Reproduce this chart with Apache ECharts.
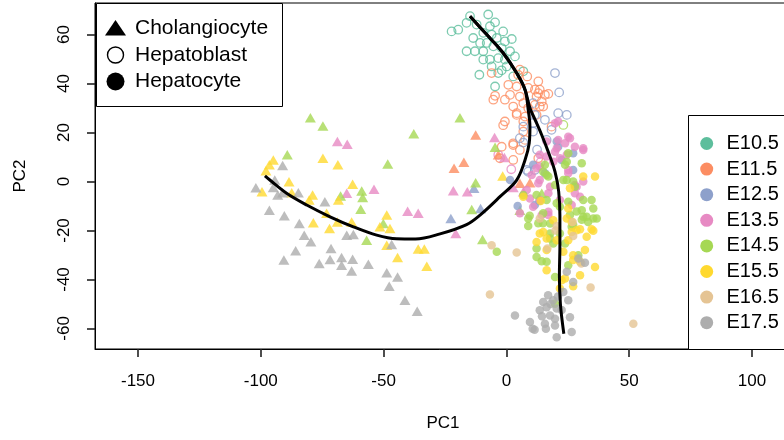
<!DOCTYPE html>
<html>
<head>
<meta charset="utf-8">
<script src="https://cdn.jsdelivr.net/npm/echarts@6/dist/echarts.min.js"></script>
<style>
  html, body { margin: 0; padding: 0; background: #fff; }
  #main { width: 784px; height: 440px; }
</style>
</head>
<body>
<div id="main"></div>
<script>
// 发育阶段
var stages = ['E10.5', 'E11.5', 'E12.5', 'E13.5', 'E14.5', 'E15.5', 'E16.5', 'E17.5'];
var cellTypes = ['Cholangiocyte', 'Hepatoblast', 'Hepatocyte'];
var xTicks = [-150, -100, -50, 0, 50, 100];
var yTicks = [-60, -40, -20, 0, 20, 40, 60];

// Cholangiocyte (三角形)
var cholE115 = [[-12.5, 19], [-17.3, 7.9], [-21.3, 5.4], [-3.3, 10.9], [5.5, -0.7], [9.6, -0.5]];
var cholE125 = [[-13.2, -2.8], [-10.5, -11], [-22.6, -15.1]];
var cholE135 = [[-68.8, 16.3], [-64.8, 15.2], [-53.9, -3.2], [-65, -4.8], [-40.2, -12.1], [-35.9, -13],
    [-21.6, -3.8], [-15.9, -4.2], [-4.8, 18], [-0.8, 9.8], [2.8, -2.4], [-20.6, -21.2], [6.9, -4.2]];
var cholE145 = [[-79.8, 26], [-74.7, 22.7], [-37.7, 19.5], [-18.9, 26], [-89.2, 10.9], [-48.3, 7.2],
    [-67.5, -5.9], [-58.9, -3.9], [-58.5, -6.5], [-59.3, -11.3], [-50.1, -17.1], [-56.9, -24],
    [-12.5, -0.5], [-4.6, 14], [-14.1, -11.4], [-9.7, -23.7], [14.4, -4.8], [5.5, -11.7]];
var cholE155 = [[-94.9, 8.8], [-96.5, 6.8], [-97.9, 4.4], [-99.5, -4.2], [-88.5, -0.1], [-87.4, -4.6],
    [-74.7, 9.5], [-68.6, 6.8], [-62.6, -1.1], [-78.9, -5.5], [-80.3, -7.6], [-68.4, -7.6],
    [-73.2, -13], [-48.7, -13.7], [-78.6, -16.8], [-68.8, -16.5], [-63, -16.5], [-72, -19.2],
    [-51.5, -18.5], [-47.4, -19.2], [-48.7, -26], [-44.3, -31], [-35.9, -27.6], [-33.4, -27.6],
    [-32.4, -34.6], [-1.5, 2.3]];
var cholE175 = [[-91.1, 6.5], [-102, -2.5], [-94.3, 0.6], [-94.9, -2.4], [-93.1, -5.5], [-91.1, -4.6],
    [-84.7, -4.6], [-73.9, -8.3], [-96.5, -11.7], [-90.4, -14], [-84.3, -17.1], [-82.3, -21.9],
    [-79.6, -24.6], [-85.8, -28.3], [-90.6, -32.1], [-71.4, -27.4], [-76.2, -33.5], [-71.8, -31.9],
    [-67.1, -31], [-62.6, -31.7], [-67.1, -34.2], [-63, -36.5], [-56.2, -33.8], [-65, -21.9],
    [-62.3, -21.6], [-48.7, -37.3], [-44.3, -39], [-47.7, -42.8], [-41.3, -48.5], [-36.3, -53],
    [-46.7, -25.7]];

// Hepatoblast (空心圆)
var blastE105 = [[-14.8, 67.5], [-7.4, 68.2], [-22.3, 61.3], [-19.6, 62], [-16.2, 64.8], [-12.1, 64.1],
    [-4.6, 65], [-6.7, 63.4], [-9.4, 60.7], [-6, 60], [-3.9, 58.6], [-13.5, 58.6], [-10.7, 56.6],
    [-8, 56.6], [-0.6, 57.2], [2.2, 58.2], [-5.3, 55.2], [-1.9, 54.5], [1.5, 53.2], [-16.2, 53.2],
    [-12.8, 53.2], [-9.4, 53.2], [-9.4, 49.8], [-6.7, 49.8], [-3.3, 50.4], [-0.6, 49.8], [0.1, 47],
    [-1.9, 45.4], [-3.3, 44.3], [-6, 47], [-11, 43.6], [6.9, 45], [-4.6, 38.8], [2.8, 42.9],
    [3.5, 51.1], [-1.3, 61.3]];
var blastE115 = [[-6, 44.3], [5.5, 45.7], [4.8, 43.6], [8.5, 42.9], [13, 40.9], [0.8, 39.5], [4.2, 38.8],
    [8.9, 38.2], [11.6, 37.5], [13.6, 37.5], [-4.6, 35], [1.5, 35.4], [5.5, 34.7], [12.3, 34.7],
    [15.7, 35.4], [-5.3, 33.4], [-0.6, 33.4], [2.8, 30.6], [6.9, 32], [11.6, 31.3], [15, 30.6],
    [4.2, 27.2], [7.6, 26.5], [-0.6, 24.5], [12.3, 27.2], [13, 36.1], [17.1, 35.8], [14.4, 32.7],
    [8.9, 30], [13.6, 30.6], [4.2, 27.9], [6.9, 24.5], [6.9, 20.4], [7.6, 17], [2.8, 14.9],
    [5.5, 12.9], [18.4, 22.4], [-1.9, 14.2], [2.8, 15.6], [2.8, 8.8], [-2.6, 9.5], [13, 9.5], [-1.3, 23]];
var blastE125 = [[19.8, 44.3], [21.5, 36.4], [10.9, 32], [21.1, 27.9], [24.6, 27.2], [11.6, 27.2],
    [15.7, 25.2], [6.9, 22.4], [10.9, 20.4], [18.4, 21.1], [5.5, 17.7], [16.4, 17], [6.9, 15.9],
    [8.3, 4.7], [11.6, 4.7], [8.9, 4], [10.9, 23.9], [12.5, 13]];
var blastE135 = [[-3.3, 10.9], [14, 8], [2, 5]];
var blastE145 = [[23.2, 23.1]];

// Hepatocyte (实心圆)
var cyteE125 = [[21.1, 14.2], [27.2, 11.5], [27.2, 4.7], [15.7, 3.4], [10.9, 6.8], [11.6, -9.6],
    [4.6, -10], [22.5, 8.8], [1.5, 0.6], [20.5, 16.3], [13.5, -8]];
var cyteE135 = [[21.1, 17], [25.2, 18.3], [27.9, 14.2], [31.3, 12.9], [20.5, 13.6], [16.4, 10.2],
    [24.6, 10.9], [19.1, 8.1], [13.6, 6.1], [10.3, 2.7], [25.2, 4.7], [13.6, 0.6], [8.3, -3.5],
    [17.8, -2.1], [13.6, -7.6], [10.9, -10.3], [5.5, -13], [17.1, -12.4], [21.8, -7.6], [28.6, -2.1],
    [30, -6.2], [16.4, 16.3], [23.9, 15.6], [19.8, 12.2], [13.6, 10.9], [21.8, 9.5], [12.3, 5.4],
    [25.2, 3.4], [13, -0.7], [9.6, -6.9], [17.1, -4.8], [27.9, -4.8], [17.1, -13.7], [27.9, -1.4],
    [31.3, 0], [14.4, -13.7], [26.6, -9.6], [19.8, 23.8], [21.1, 24.5], [25.9, 17.7], [31.3, 13.6]];
var cyteE145 = [[24.6, 8.1], [30.7, 7.5], [16.4, 2.7], [23.2, 0.6], [27.2, 0], [27.9, -2.1], [19.8, -1.4],
    [12.3, -5.5], [16.4, -7.6], [20.5, -8.9], [25.2, -8.3], [31.3, -7.6], [34.7, -7.6], [35.4, -11],
    [31.3, -14.4], [35.4, -15.1], [8.9, -18.2], [15, -13], [17.8, -17.1], [27.2, -17.8], [6.9, -5.5],
    [-3.9, -28.7], [12.3, -27.4], [14.4, -32.6], [16.4, -32.8], [19.8, -39], [12.3, -30.8],
    [25.2, -34.2], [29.3, -30.1], [19.1, -25.3], [23.9, -25.3], [17.8, -21.2], [21.8, -21.2],
    [26.6, -18.5], [28.6, -12.2], [33.3, -16.5], [36.8, -15.1], [30.7, -15.6], [14.9, -17],
    [17.8, -23.3], [19.8, -49.9], [15, 4], [17.1, 2], [24.6, 0.6], [30.7, -11.7], [21.8, -10.3],
    [8.9, -15.1], [25.9, -13.7], [32.7, -14.4], [15.7, 6.8], [23.9, 6.8], [25.2, 11.5], [13, -17],
    [9.5, -14]];
var cyteE155 = [[19.1, -15.8], [24.6, -15.1], [13.6, -21.2], [12.3, -24.7], [16.4, -23.3], [20.5, -24],
    [26.6, -20.6], [28.6, -19.9], [25.2, -24], [32.7, -22.6], [35.4, -20.1], [16.4, -28], [23.2, -28.7],
    [27.2, -30.1], [32, -28], [30, -32.8], [36.1, -34.9], [16.4, -36.2], [23.9, -39.6], [22.5, -40.3],
    [30, -38.3], [27.2, -42.8], [21.8, -43.7], [27.2, -32.1], [31.3, 2], [36.1, 2], [26.6, -16.5],
    [30, -19.5], [34.7, -19.5], [15, -20.6], [25.2, -11], [6.9, -6.2], [25.9, -2.8], [14, -8]];
var cyteE165 = [[-6, -26], [4.2, -29], [-6.7, -46.1], [51.7, -58.1], [13.6, -15.1], [20.5, -18.2],
    [27.2, -22.3], [16.7, -27.4], [30.5, -33.5], [34.3, -43.3], [27, -16.5], [20, -20]];
var cyteE175 = [[3.5, -54.7], [9.6, -57.4], [10.7, -60.1], [15, -49.2], [16.4, -51.3], [13.6, -52.6],
    [19.1, -48.5], [20.5, -51.9], [17.8, -54.7], [19.8, -56], [15.7, -58.1], [16.1, -60.1], [19.8, -58.8],
    [20.5, -63.6], [26.6, -61.5], [25.9, -55.4], [25.2, -48.5], [23.2, -45.1], [24.6, -36.9], [27.2, -41],
    [29.3, -31.4], [32, -33.2], [22.5, -52.5], [14.5, -55], [11.5, -60.5], [18, -50], [17, -46.5], [21, -47]];

// 主曲线 (两条谱系)
var curveLeft = [[-14.8, 67.5], [-8, 60], [-1.3, 52.5], [4.2, 44.3], [7.6, 37.5], [8.9, 29.3], [9.6, 22.4],
    [9.3, 15.6], [7.6, 8.8], [4.2, 0.6], [-2.6, -6.2], [-10.7, -13.7], [-16.2, -17.6], [-27, -21.4],
    [-37, -23.5], [-44.7, -23.4], [-52.8, -21.9], [-62.3, -18.5], [-71.8, -14.4], [-81.3, -9.6],
    [-89.5, -4.8], [-96.3, 0.6], [-98.3, 2.3]];
var curveDown = [[-14.8, 67.5], [-8, 60], [-1.3, 52.5], [4.2, 44.3], [7.6, 37.5], [9.6, 30], [11.8, 25],
    [14.4, 19], [17.1, 12], [19.8, 4], [21.3, -4], [21.8, -14], [21.8, -26], [21.6, -38], [22, -50],
    [23.4, -62.2]];

var byStageChol = [[], cholE115, cholE125, cholE135, cholE145, cholE155, [], cholE175];
var byStageBlast = [blastE105, blastE115, blastE125, blastE135, blastE145, [], [], []];
var byStageCyte = [[], [], cyteE125, cyteE135, cyteE145, cyteE155, cyteE165, cyteE175];

var colors = ['#5DBE9C', '#FC8D62', '#8DA0CB', '#E78AC3', '#A6D854', '#FFD92F', '#E5C494', '#ADADAD'];
var font = 'Liberation Sans, Arial, Helvetica, sans-serif';

var chart = echarts.init(document.getElementById('main'));

var series = [];
stages.forEach(function (s, i) {
    if (byStageBlast[i].length) series.push({
        type: 'scatter', name: s, data: byStageBlast[i], symbol: 'circle', symbolSize: 8.5,
        itemStyle: { color: 'rgba(0,0,0,0)', borderColor: colors[i], borderWidth: 1.3 }
    });
});
stages.forEach(function (s, i) {
    if (byStageChol[i].length) series.push({
        type: 'scatter', name: s, data: byStageChol[i], symbol: 'triangle', symbolSize: [11, 9.5],
        itemStyle: { color: colors[i] }
    });
});
stages.forEach(function (s, i) {
    if (byStageCyte[i].length) series.push({
        type: 'scatter', name: s, data: byStageCyte[i], symbol: 'circle', symbolSize: 8.5,
        itemStyle: { color: colors[i] }
    });
});
[curveLeft, curveDown].forEach(function (c) {
    series.push({
        type: 'line', data: c, smooth: 0.35, symbol: 'none', z: 10,
        lineStyle: { color: '#000', width: 3 }
    });
});

// 图例 (手绘, 仿R的legend)
var graphic = [];
graphic.push({ type: 'rect', left: 96, top: 3, z: 100, shape: { width: 186, height: 103 },
    style: { fill: '#fff', stroke: '#000', lineWidth: 1 } });
var legY = [28, 55, 81.5];
graphic.push({ type: 'polygon', z: 101, shape: { points: [[105, 35.5], [126, 35.5], [115.5, 20]] },
    style: { fill: '#000' } });
graphic.push({ type: 'circle', z: 101, shape: { cx: 115.5, cy: legY[1], r: 8 },
    style: { fill: 'none', stroke: '#000', lineWidth: 1.4 } });
graphic.push({ type: 'circle', z: 101, shape: { cx: 115.5, cy: legY[2], r: 9 },
    style: { fill: '#000' } });
cellTypes.forEach(function (t, i) {
    graphic.push({ type: 'text', z: 101, x: 135, y: legY[i],
        style: { text: t, fill: '#000', font: '21px ' + font, textVerticalAlign: 'middle' } });
});
graphic.push({ type: 'rect', left: 688, top: 115, z: 100, shape: { width: 140, height: 234 },
    style: { fill: '#fff', stroke: '#000', lineWidth: 1 } });
stages.forEach(function (s, i) {
    var y = 143.5 + i * 25.6;
    graphic.push({ type: 'circle', z: 101, shape: { cx: 706.7, cy: y, r: 6.5 }, style: { fill: colors[i] } });
    graphic.push({ type: 'text', z: 101, x: 726.5, y: y,
        style: { text: s, fill: '#000', font: '20px ' + font, textVerticalAlign: 'middle' } });
});

chart.setOption({
    animation: false,
    backgroundColor: '#fff',
    grid: { left: 95, top: 3, width: 696, height: 346, outerBoundsMode: 'none', containLabel: false,
        show: true, borderColor: '#000', borderWidth: 1 },
    xAxis: {
        type: 'value', min: -167.5, max: 115.9,
        name: 'PC1', nameLocation: 'middle', nameGap: 66,
        nameTextStyle: { color: '#000', fontSize: 17, fontFamily: font },
        axisLine: { show: true, onZero: false, lineStyle: { color: '#000', width: 1 } },
        splitLine: { show: false },
        axisTick: { show: true, length: 8, customValues: xTicks, lineStyle: { color: '#222', width: 1.6 } },
        axisLabel: { customValues: xTicks, color: '#000', fontSize: 17, fontFamily: font, margin: 24 }
    },
    yAxis: {
        type: 'value', min: -68.4, max: 72.9,
        name: 'PC2', nameLocation: 'middle', nameGap: 66, nameRotate: 90,
        nameTextStyle: { color: '#000', fontSize: 17, fontFamily: font },
        axisLine: { show: true, onZero: false, lineStyle: { color: '#000', width: 1 } },
        splitLine: { show: false },
        axisTick: { show: true, length: 8, customValues: yTicks, lineStyle: { color: '#222', width: 1.6 } },
        axisLabel: { customValues: yTicks, color: '#000', fontSize: 17, fontFamily: font, margin: 22, rotate: 90 }
    },
    series: series,
    graphic: graphic
});
</script>
</body>
</html>
